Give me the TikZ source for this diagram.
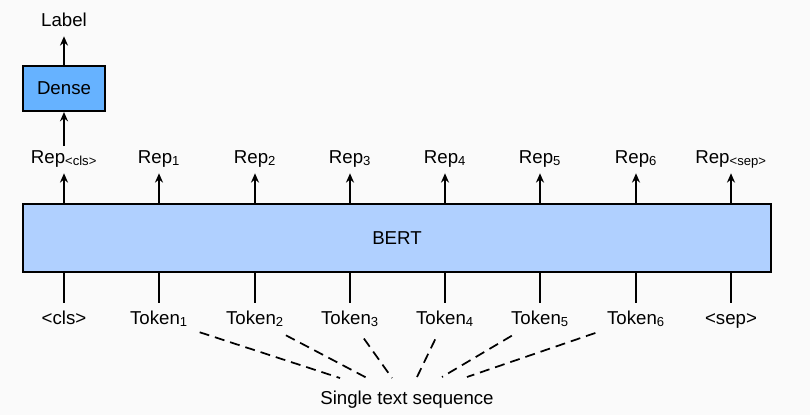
\documentclass[tikz,border=0pt]{standalone}
\usepackage{fontspec}
\setmainfont{Liberation Sans}
\usetikzlibrary{arrows.meta}
\definecolor{bertblue}{RGB}{176,208,255}
\definecolor{denseblue}{RGB}{102,178,255}
\definecolor{bggrey}{RGB}{250,250,250}

\begin{document}
\begin{tikzpicture}[x=0.75pt,y=0.75pt,font=\fontsize{14}{16}\selectfont,
  lbl/.style={inner sep=2pt,text height=10.5pt,text depth=3pt},
  blk/.style={draw=black,line width=1.5pt},
  arr/.style={line width=1.5pt,shorten >=2.5pt,-{Stealth[length=7pt,width=6pt]}},
  tie/.style={line width=1.5pt,shorten >=3pt},
  dsh/.style={line width=1.3pt,shorten <=7pt,dash pattern=on 7.5pt off 4.5pt}]
\fill [bggrey] (0,0) rectangle (810,-415);
\useasboundingbox (0,0) rectangle (810,-415);
\node [blk,fill=bertblue,minimum width=561pt,minimum height=51pt] (bert) at (397,-238) {BERT};
\node [blk,fill=denseblue,minimum width=61.5pt,minimum height=33.75pt] (dense) at (64,-88.5) {Dense};
\node [lbl] (label) at (64,-21) {Label};
\node [lbl] (rep0) at (64,-158) {Rep\textsubscript{<cls>}};
\node [lbl] (rep1) at (159,-158) {Rep\textsubscript{1}};
\node [lbl] (rep2) at (255,-158) {Rep\textsubscript{2}};
\node [lbl] (rep3) at (350,-158) {Rep\textsubscript{3}};
\node [lbl] (rep4) at (445,-158) {Rep\textsubscript{4}};
\node [lbl] (rep5) at (540,-158) {Rep\textsubscript{5}};
\node [lbl] (rep6) at (636,-158) {Rep\textsubscript{6}};
\node [lbl] (rep7) at (731,-158) {Rep\textsubscript{<sep>}};
\node [lbl] (tok0) at (64,-319) {<cls>};
\node [lbl] (tok1) at (159,-319) {Token\textsubscript{1}};
\node [lbl] (tok2) at (255,-319) {Token\textsubscript{2}};
\node [lbl] (tok3) at (350,-319) {Token\textsubscript{3}};
\node [lbl] (tok4) at (445,-319) {Token\textsubscript{4}};
\node [lbl] (tok5) at (540,-319) {Token\textsubscript{5}};
\node [lbl] (tok6) at (636,-319) {Token\textsubscript{6}};
\node [lbl] (tok7) at (731,-319) {<sep>};
\node [lbl] (seq) at (407,-399) {Single text sequence};
% top: dense head
\draw [arr] (dense) -- (label);
\draw [arr,shorten >=0pt] (rep0) -- (dense);
% BERT outputs
\draw [arr] (bert.north -| rep0) -- (rep0);
\draw [arr] (bert.north -| rep1) -- (rep1);
\draw [arr] (bert.north -| rep2) -- (rep2);
\draw [arr] (bert.north -| rep3) -- (rep3);
\draw [arr] (bert.north -| rep4) -- (rep4);
\draw [arr] (bert.north -| rep5) -- (rep5);
\draw [arr] (bert.north -| rep6) -- (rep6);
\draw [arr] (bert.north -| rep7) -- (rep7);
% BERT inputs
\draw [tie] (bert.south -| tok0) -- (tok0);
\draw [tie] (bert.south -| tok1) -- (tok1);
\draw [tie] (bert.south -| tok2) -- (tok2);
\draw [tie] (bert.south -| tok3) -- (tok3);
\draw [tie] (bert.south -| tok4) -- (tok4);
\draw [tie] (bert.south -| tok5) -- (tok5);
\draw [tie] (bert.south -| tok6) -- (tok6);
\draw [tie] (bert.south -| tok7) -- (tok7);
% sequence fan
\coordinate (s1) at (340,-378);
\coordinate (s2) at (367,-378);
\coordinate (s3) at (392,-378);
\coordinate (s4) at (417,-377);
\coordinate (s5) at (442,-377);
\coordinate (s6) at (467,-377);
\draw [dsh] (tok1) -- (s1);
\draw [dsh] (tok2) -- (s2);
\draw [dsh] (tok3) -- (s3);
\draw [dsh] (tok4) -- (s4);
\draw [dsh] (tok5) -- (s5);
\draw [dsh] (tok6) -- (s6);
\end{tikzpicture}
\end{document}
